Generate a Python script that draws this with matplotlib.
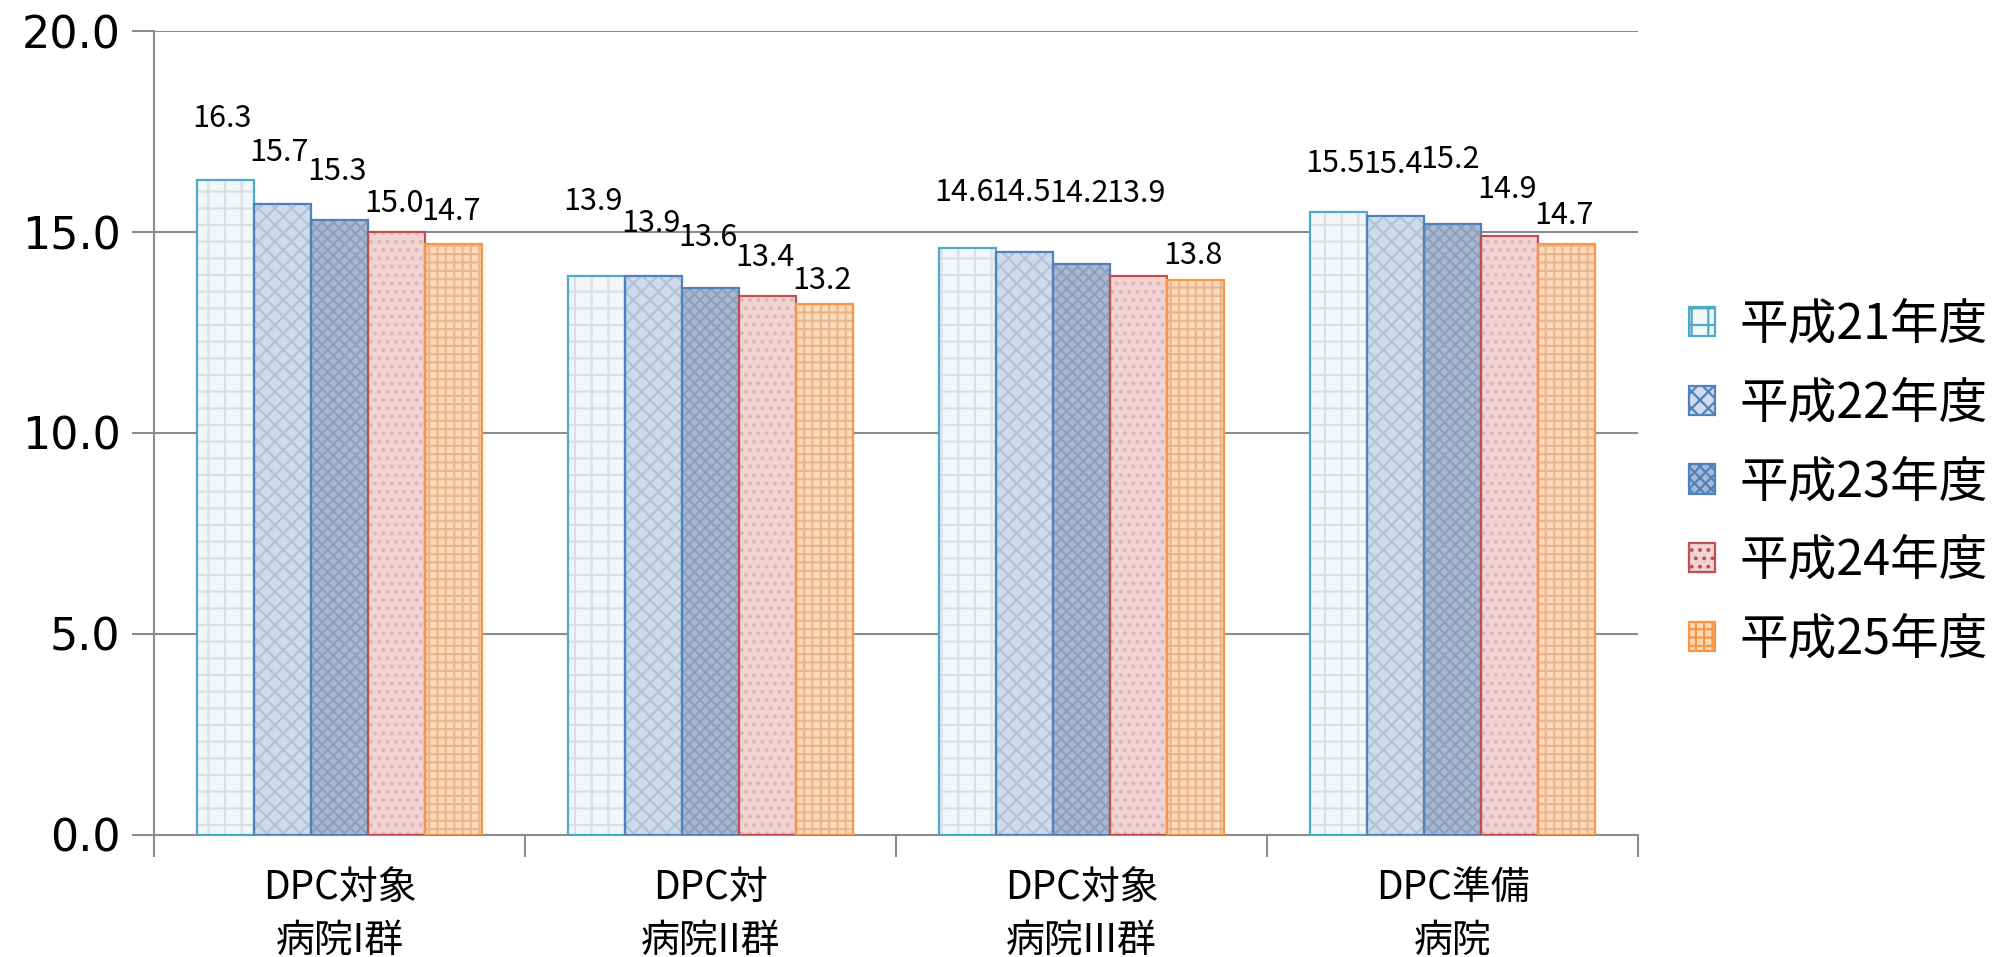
"""Average length of stay by DPC hospital group, FY H21-H25."""

import numpy as np
import matplotlib
matplotlib.use("Agg")
import matplotlib.pyplot as plt
from matplotlib.patches import Patch

plt.rcParams['font.family'] = ['Noto Sans CJK JP', 'DejaVu Sans']
plt.rcParams['hatch.linewidth'] = 1.6

categories = ['DPC対象\n病院I群', 'DPC対\n病院II群', 'DPC対象\n病院III群', 'DPC準備\n病院']
series_names = ['平成21年度', '平成22年度', '平成23年度', '平成24年度', '平成25年度']
values = [
    [16.3, 13.9, 14.6, 15.5],  # H21
    [15.7, 13.9, 14.5, 15.4],  # H22
    [15.3, 13.6, 14.2, 15.2],  # H23
    [15.0, 13.4, 13.9, 14.9],  # H24
    [14.7, 13.2, 13.8, 14.7],  # H25
]
yticks = [0, 5, 10, 15, 20]

# style per series: face, hatch colour, edge, hatch pattern
faces = ['#f2f8fa', '#cddbea', '#aab9d3', '#f1d3d4', '#fcd9b8']
hatch_cols = ['#d8e0e5', '#b3c2d4', '#909fbb', '#dbb6b6', '#eab690']
edges = ['#4bacc6', '#4f81bd', '#4f81bd', '#c0504d', '#f79646']
hatches = ['+', 'xx', 'xxx', '..', '++']
# label lift above bar top in pixels (series x category), as placed in the original
label_lift = [
    [46, 59, 40, 33],
    [36, 37, 44, 36],
    [33, 35, 55, 49],
    [13, 23, 67, 31],
    [17, 8, 9, 13],
]

fig = plt.figure(figsize=(20.11, 9.57), dpi=100)
ax = fig.add_axes([0.0766, 0.1275, 0.738, 0.8401])

x = np.arange(len(categories))
width = 0.154
n = len(series_names)
for i in range(n):
    pos = x + (i - (n - 1) / 2) * width
    # hatch layer (hatch colour follows edgecolor), then outline on top
    ax.bar(pos, values[i], width, color=faces[i], edgecolor=hatch_cols[i],
           hatch=hatches[i], linewidth=0, zorder=2)
    ax.bar(pos, values[i], width, fill=False, edgecolor=edges[i],
           linewidth=1.6, zorder=3)
    for j, (xp, v) in enumerate(zip(pos, values[i])):
        ax.annotate(f'{v:.1f}', (xp, v), xytext=(-3, label_lift[i][j]),
                    textcoords='offset pixels', ha='center', va='bottom',
                    fontsize=22, color='#000000')

ax.set_xlim(-0.5, len(categories) - 0.5)
ax.set_ylim(0, 20)
ax.set_yticks(yticks)
ax.set_yticklabels([f'{t:.1f}' for t in yticks], fontsize=32, family='DejaVu Sans')
ax.yaxis.grid(True, color='#8c8c8c', linewidth=1.5)
ax.set_axisbelow(True)

# category boundary ticks, labels centred between them
ax.set_xticks(np.arange(-0.5, len(categories)), minor=False)
ax.set_xticklabels([])
ax.set_xticks(x, minor=True)
ax.set_xticklabels(categories, minor=True, fontsize=28, linespacing=1.4)
ax.tick_params(axis='x', which='minor', length=0, pad=24)
ax.tick_params(axis='x', which='major', length=16, width=1.5, color='#8c8c8c')
ax.tick_params(axis='y', length=16, width=1.5, color='#8c8c8c', pad=8)

for s in ['top', 'right']:
    ax.spines[s].set_visible(False)
for s in ['left', 'bottom']:
    ax.spines[s].set_color('#8c8c8c')
    ax.spines[s].set_linewidth(1.5)

handles = [Patch(facecolor=faces[i], edgecolor=edges[i], hatch=hatches[i],
                 linewidth=1.6) for i in range(n)]
leg = fig.legend(handles, series_names, loc='center left',
                 bbox_to_anchor=(0.818, 0.496), frameon=False, fontsize=35,
                 handlelength=0.55, handleheight=0.55, handletextpad=0.5,
                 labelspacing=0.6)

fig.savefig('out.png', dpi=100)
